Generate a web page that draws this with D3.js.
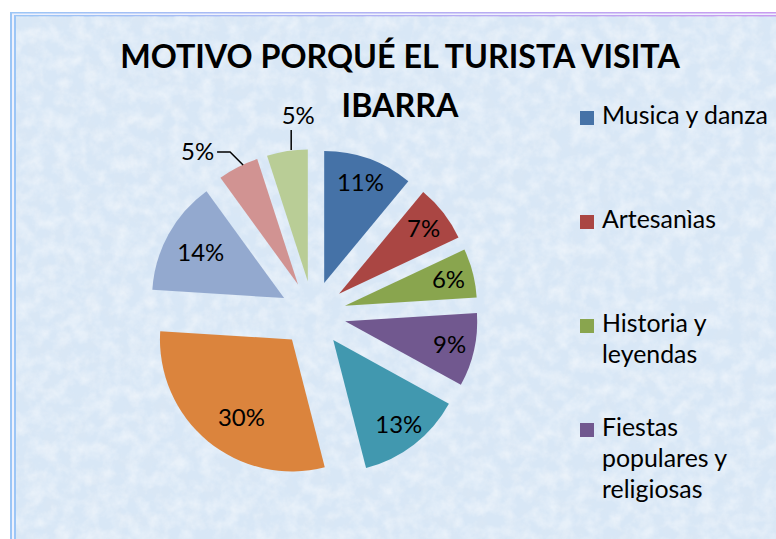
<!DOCTYPE html>
<html>
<head>
<meta charset="utf-8">
<script src="https://cdn.jsdelivr.net/npm/d3@7"></script>
<style>
  body { margin: 0; background: #fff; }
  svg { display: block; }
</style>
</head>
<body>
<div id="chart-area"></div>
<script>
const width = 776;
const height = 539;

// data (pie shares, %), clockwise from 12 o'clock
const values = [11, 7, 6, 9, 13, 30, 14, 5, 5];
const colors = ["#4572A7", "#AA4643", "#89A54E", "#71588F", "#4198AF",
                "#DB843D", "#93A9CF", "#D19392", "#B9CD96"];
// only the first four legend entries are visible in the original
const legendLabels = [
    ["Musica y danza"],
    ["Artesanìas"],
    ["Historia y", "leyendas"],
    ["Fiestas", "populares y", "religiosas"]
];
const titleLines = ["MOTIVO PORQUÉ EL TURISTA VISITA", "IBARRA"];

const font = "Lato, 'Noto Sans', sans-serif";
const cx = 313, cy = 314;
const radius = 132;
const explode = 33;

const svg = d3.select("#chart-area")
    .append("svg")
    .attr("width", width)
    .attr("height", height);

const defs = svg.append("defs");

const frameGrad = defs.append("linearGradient")
    .attr("id", "frameGrad")
    .attr("x1", "0").attr("y1", "0").attr("x2", "1").attr("y2", "0");
frameGrad.append("stop").attr("offset", "0").attr("stop-color", "#9cc6f6");
frameGrad.append("stop").attr("offset", "1").attr("stop-color", "#c99af0");

// mottled paper texture
const tex = defs.append("filter")
    .attr("id", "tex")
    .attr("x", 0).attr("y", 0).attr("width", 1).attr("height", 1);
tex.append("feTurbulence")
    .attr("type", "fractalNoise")
    .attr("baseFrequency", "0.07")
    .attr("numOctaves", 4)
    .attr("seed", 5)
    .attr("result", "noise");
tex.append("feColorMatrix")
    .attr("in", "noise")
    .attr("type", "matrix")
    .attr("values", "0 0 0 0 1  0 0 0 0 1  0 0 0 0 1  0.9 0 0 0 -0.33")
    .attr("result", "light");
tex.append("feColorMatrix")
    .attr("in", "noise")
    .attr("type", "matrix")
    .attr("values", "0 0 0 0 0.72  0 0 0 0 0.80  0 0 0 0 0.89  0 0.9 0 0 -0.36")
    .attr("result", "dark");
tex.append("feMerge").call(m => {
    m.append("feMergeNode").attr("in", "dark");
    m.append("feMergeNode").attr("in", "light");
});

// frame + background
svg.append("rect").attr("x", 10).attr("y", 12)
    .attr("width", width).attr("height", height).attr("fill", "url(#frameGrad)");
svg.append("rect").attr("x", 12).attr("y", 13.5)
    .attr("width", width).attr("height", height).attr("fill", "#eef1fd");
svg.append("rect").attr("x", 14).attr("y", 15)
    .attr("width", width).attr("height", height).attr("fill", "url(#frameGrad)");
svg.append("rect").attr("x", 16).attr("y", 16.5)
    .attr("width", width).attr("height", height).attr("fill", "#d8e7f6");
svg.append("rect").attr("x", 16).attr("y", 16.5)
    .attr("width", width).attr("height", height)
    .attr("fill", "#fff")
    .attr("filter", "url(#tex)");

// helper: scale a font size so a sample string hits a target width
function fitSize(sample, weight, base, target) {
    const t = svg.append("text")
        .attr("font-family", font)
        .attr("font-weight", weight)
        .attr("font-size", base)
        .text(sample);
    const w = t.node().getComputedTextLength();
    t.remove();
    return base * target / w;
}

// title
const titleSize = fitSize(titleLines[0], "bold", 32, 560);
svg.append("g").selectAll("text")
    .data(titleLines)
    .join("text")
    .attr("x", 400)
    .attr("y", (d, i) => 68 + i * 49)
    .attr("text-anchor", "middle")
    .attr("font-family", font)
    .attr("font-weight", "bold")
    .attr("font-size", titleSize)
    .attr("fill", "#000")
    .text(d => d);

// pie
const pie = d3.pie()
    .value(d => d)
    .sort(null);

const arc = d3.arc()
    .innerRadius(0)
    .outerRadius(radius);

const arcs = pie(values);
const mid = d => (d.startAngle + d.endAngle) / 2;
const dirOf = d => [Math.sin(mid(d)), -Math.cos(mid(d))];

const g = svg.append("g")
    .attr("transform", `translate(${cx}, ${cy})`);

g.selectAll("path")
    .data(arcs)
    .join("path")
    .attr("fill", (d, i) => colors[i])
    .attr("d", arc)
    .attr("transform", d => {
        const [dx, dy] = dirOf(d);
        return `translate(${dx * explode}, ${dy * explode})`;
    });

const labelSize = fitSize("30%", "normal", 20, 47);

// inside labels
const inside = arcs.filter(d => d.data > 5);
const labelR = d => explode + radius * (d.data >= 14 ? 0.72 : 0.81);
g.selectAll("text.inside")
    .data(inside)
    .join("text")
    .attr("class", "inside")
    .attr("x", d => dirOf(d)[0] * labelR(d) + (d.data >= 30 ? 10 : 0))
    .attr("y", d => dirOf(d)[1] * labelR(d) + (d.data >= 30 ? 5 : 0))
    .attr("dy", "0.36em")
    .attr("text-anchor", "middle")
    .attr("font-family", font)
    .attr("font-size", labelSize)
    .attr("fill", "#000")
    .text(d => d.data + "%");

// outside labels with leader lines
const outside = arcs.filter(d => d.data <= 5);
outside.forEach(d => {
    const [dx, dy] = dirOf(d);
    const ax = dx * (explode + radius), ay = dy * (explode + radius);
    const nearTop = Math.abs(Math.sin(mid(d))) < 0.3;
    let pts, lx, ly, anchor;
    if (nearTop) {
        pts = [[ax + 4, ay - 1], [ax + 4, ay - 21]];
        lx = ax + 11; ly = ay - 27; anchor = "middle";
    } else {
        pts = [[ax + 5, ay - 2], [ax - 8, ay - 15], [ax - 21, ay - 15]];
        lx = ax - 24; ly = ay - 7; anchor = "end";
    }
    g.append("path")
        .attr("d", d3.line()(pts))
        .attr("fill", "none")
        .attr("stroke", "#000")
        .attr("stroke-width", 1.5);
    g.append("text")
        .attr("x", lx)
        .attr("y", ly)
        .attr("text-anchor", anchor)
        .attr("font-family", font)
        .attr("font-size", labelSize)
        .attr("fill", "#000")
        .text(d.data + "%");
});

// legend
const legendSize = fitSize(legendLabels[0][0], "normal", 22, 166);
const legend = svg.append("g")
    .selectAll("g")
    .data(legendLabels)
    .join("g")
    .attr("transform", (d, i) => `translate(580, ${124 + i * 104})`);

legend.append("rect")
    .attr("x", 0)
    .attr("y", -13)
    .attr("width", 14)
    .attr("height", 14)
    .attr("fill", (d, i) => colors[i]);

legend.append("text")
    .attr("font-family", font)
    .attr("font-size", legendSize)
    .attr("fill", "#000")
    .selectAll("tspan")
    .data(d => d)
    .join("tspan")
    .attr("x", 22)
    .attr("y", (d, i) => i * 31)
    .text(d => d);
</script>
</body>
</html>
